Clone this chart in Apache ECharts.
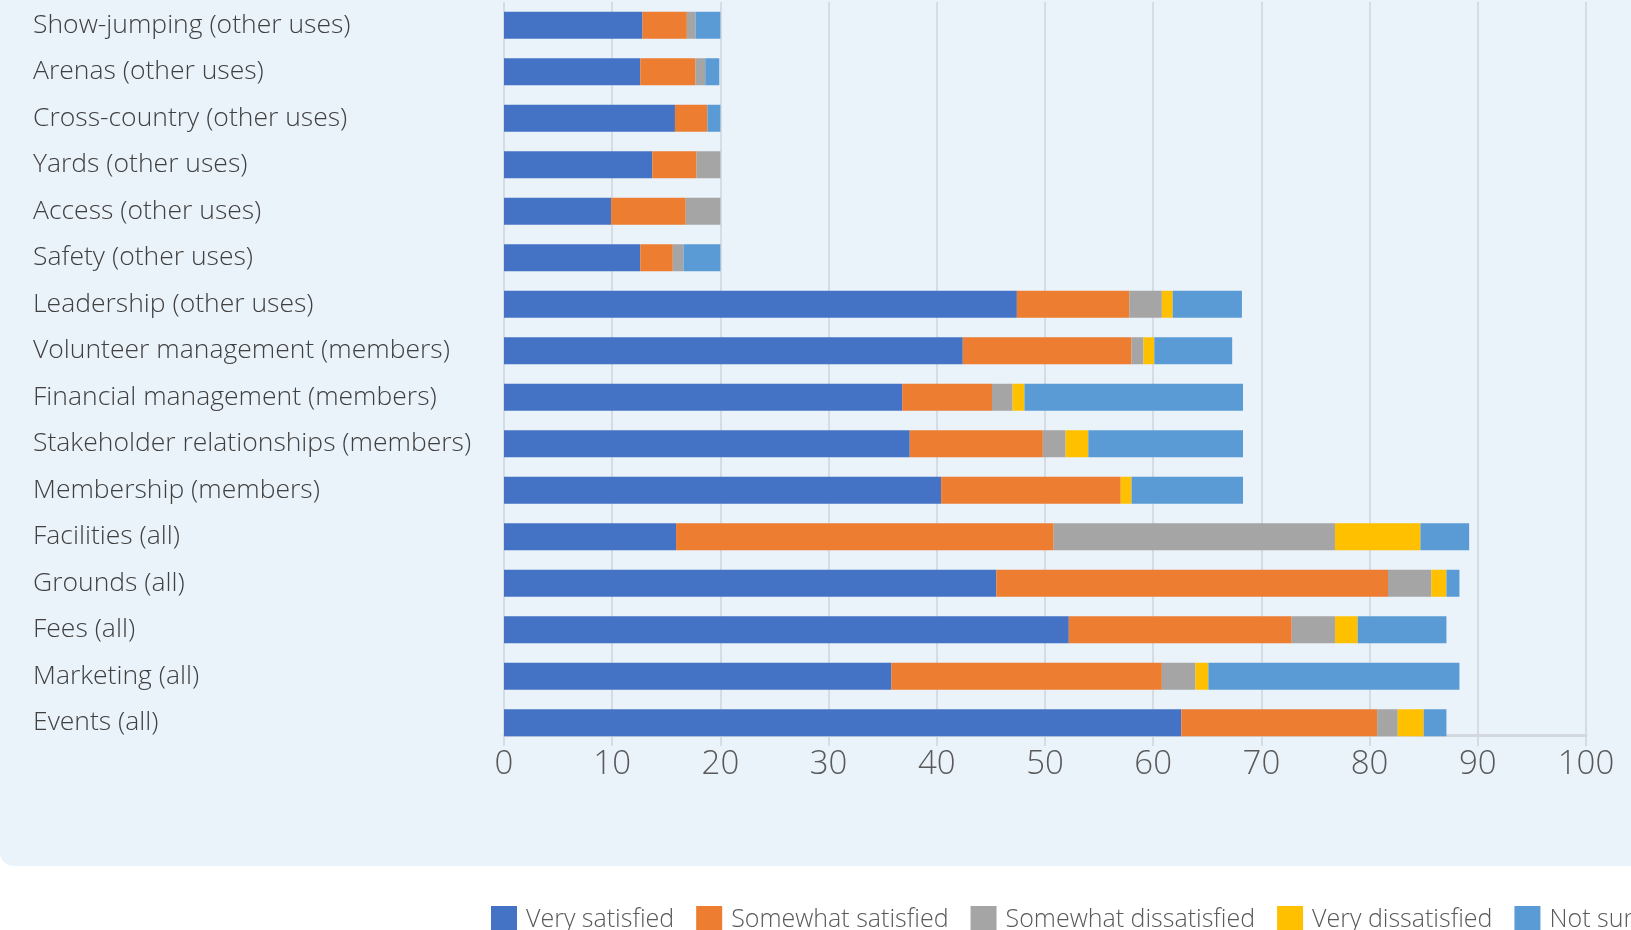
<!DOCTYPE html>
<html>
<head>
<meta charset="utf-8">
<script src="https://cdn.jsdelivr.net/npm/echarts@6/dist/echarts.min.js"></script>
<style>
  html, body { margin: 0; padding: 0; background: #ffffff; }
  .panel {
    position: absolute; left: 0; top: 0; width: 1631px; height: 866px;
    background: #eaf2fa; border-bottom-left-radius: 14px;
  }
  #bar { position: absolute; left: 0; top: 0; width: 1631px; height: 930px; }
</style>
</head>
<body>
<div class="panel"></div>
<div id="bar"></div>
<script>
// 类别（从上到下）
const categories = [
  "Show-jumping (other uses)",
  "Arenas (other uses)",
  "Cross-country (other uses)",
  "Yards (other uses)",
  "Access (other uses)",
  "Safety (other uses)",
  "Leadership (other uses)",
  "Volunteer management (members)",
  "Financial management (members)",
  "Stakeholder relationships (members)",
  "Membership (members)",
  "Facilities (all)",
  "Grounds (all)",
  "Fees (all)",
  "Marketing (all)",
  "Events (all)",
];

// 各系列数值
const verySatisfied = [12.8, 12.6, 15.8, 13.7, 9.9, 12.6, 47.4, 42.4, 36.8, 37.5, 40.4, 15.9, 45.5, 52.2, 35.8, 62.6];
const somewhatSatisfied = [4.1, 5.1, 3.0, 4.1, 6.9, 3.0, 10.4, 15.6, 8.3, 12.3, 16.6, 34.9, 36.2, 20.6, 25.0, 18.1];
const somewhatDissatisfied = [0.8, 0.9, 0, 2.2, 3.2, 1.0, 3.0, 1.1, 1.9, 2.1, 0, 26.0, 4.0, 4.0, 3.1, 1.9];
const veryDissatisfied = [0, 0, 0, 0, 0, 0, 1.0, 1.0, 1.1, 2.1, 1.0, 7.9, 1.4, 2.1, 1.2, 2.4];
const notSure = [2.3, 1.3, 1.2, 0, 0, 3.4, 6.4, 7.2, 20.2, 14.3, 10.3, 4.5, 1.2, 8.2, 23.2, 2.1];

const seriesNames = ["Very satisfied", "Somewhat satisfied", "Somewhat dissatisfied", "Very dissatisfied", "Not sure"];
const seriesData = [verySatisfied, somewhatSatisfied, somewhatDissatisfied, veryDissatisfied, notSure];
const colors = ["#4472c4", "#ed7d31", "#a5a5a5", "#ffc000", "#5b9bd5"];

const font = "'Open Sans', Lato, sans-serif";

const myChart = echarts.init(document.getElementById("bar"));

const option = {
  animation: false,
  color: colors,
  legend: {
    left: 486,
    top: 901,
    width: 1600,
    itemWidth: 26,
    itemHeight: 27,
    itemGap: 22,
    icon: "rect",
    data: seriesNames,
    textStyle: {
      color: "#595959",
      fontSize: 25,
      fontFamily: font,
      fontWeight: 300,
      padding: [0, 0, 0, 4],
    },
  },
  grid: {
    left: 504,
    right: 45,
    top: 2,
    height: 744,
    containLabel: false,
    outerBoundsMode: "none",
  },
  xAxis: {
    type: "value",
    min: 0,
    max: 100,
    interval: 10,
    offset: -11,
    axisLine: { show: true, lineStyle: { color: "#d3d8de", width: 3 } },
    axisTick: { show: false },
    axisLabel: {
      color: "#595959",
      fontSize: 33,
      fontFamily: font,
      fontWeight: 300,
      margin: 13,
    },
    splitLine: { show: true, lineStyle: { color: "#d5dce5", width: 2 } },
  },
  yAxis: {
    type: "category",
    inverse: true,
    data: categories,
    axisLine: { show: false },
    axisTick: { show: false },
    axisLabel: {
      align: "left",
      margin: 471,
      color: "#404040",
      fontSize: 26.5,
      fontFamily: font,
      fontWeight: 300,
    },
  },
  series: seriesData.map((d, i) => ({
    name: seriesNames[i],
    type: "bar",
    stack: "total",
    barWidth: 27,
    itemStyle: { color: colors[i] },
    data: d,
  })),
};

myChart.setOption(option);
window.addEventListener("resize", () => myChart.resize());
</script>
</body>
</html>
